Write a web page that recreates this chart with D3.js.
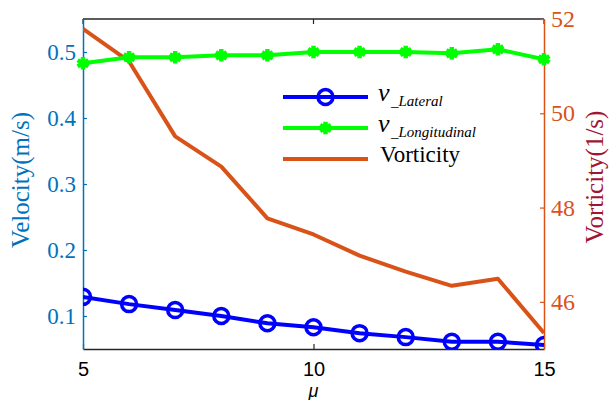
<!DOCTYPE html>
<html>
<head>
<meta charset="utf-8">
<script src="https://cdn.jsdelivr.net/npm/d3@7"></script>
<style>
  body { margin: 0; background: #fff; }
  svg { display: block; }
</style>
</head>
<body>
<div id="chart"></div>
<script>
// data
const mu = [5, 6, 7, 8, 9, 10, 11, 12, 13, 14, 15];
const vLateral = [0.129, 0.118, 0.109, 0.100, 0.089, 0.083, 0.074, 0.068, 0.061, 0.061, 0.056];
const vLongitudinal = [0.483, 0.492, 0.492, 0.495, 0.495, 0.500, 0.500, 0.500, 0.498, 0.504, 0.489];
const vorticity = [51.79, 51.1, 49.51, 48.87, 47.77, 47.43, 46.98, 46.64, 46.34, 46.49, 45.34];

const xTicks = [5, 10, 15];
const leftTicks = [0.1, 0.2, 0.3, 0.4, 0.5];
const rightTicks = [46, 48, 50, 52];

const width = 609, height = 400;
const margin = { top: 19, right: 65, bottom: 51, left: 83 };
const plotW = width - margin.left - margin.right;
const plotH = height - margin.top - margin.bottom;

const blueAxis = "#0072BD", orange = "#D95319", darkRed = "#A2142F";
const serif = "Liberation Serif, Times New Roman, serif";
const sans = "Liberation Sans, Arial, sans-serif";

const svg = d3
  .select("#chart")
  .append("svg")
  .attr("width", width)
  .attr("height", height);

const g = svg.append("g").attr("transform", `translate(${margin.left},${margin.top})`);

const x = d3.scaleLinear().domain([5, 15]).range([0, plotW]);
const yL = d3.scaleLinear().domain([0.05, 0.55]).range([plotH, 0]);
const yR = d3.scaleLinear().domain([45, 52]).range([plotH, 0]);

svg.append("defs")
  .append("clipPath")
  .attr("id", "plotClip")
  .append("rect")
  .attr("x", 0)
  .attr("y", -10)
  .attr("width", plotW)
  .attr("height", plotH + 10);

// top frame line with inward tick
g.append("line")
  .attr("x1", 0).attr("x2", plotW)
  .attr("y1", 0).attr("y2", 0)
  .attr("stroke", "#262626").attr("stroke-width", 1.5);
g.selectAll(".topTick")
  .data(xTicks)
  .enter()
  .append("line")
  .attr("x1", (d) => x(d)).attr("x2", (d) => x(d))
  .attr("y1", 0).attr("y2", 5)
  .attr("stroke", "#262626").attr("stroke-width", 1.2);

// bottom axis
const xAxis = g.append("g")
  .attr("transform", `translate(0,${plotH})`)
  .call(d3.axisBottom(x).tickValues(xTicks).tickSize(-5).tickSizeOuter(0).tickPadding(13));
xAxis.attr("font-family", sans).attr("font-size", 20);
xAxis.select(".domain").attr("stroke", "#262626").attr("stroke-width", 1.5);
xAxis.selectAll(".tick line").attr("stroke", "#262626").attr("stroke-width", 1.2);
xAxis.selectAll("text").attr("fill", "#000");

// left axis
const leftAxis = g.append("g")
  .call(d3.axisLeft(yL).tickValues(leftTicks).tickFormat(d3.format(".1f")).tickSize(-4).tickSizeOuter(0).tickPadding(7));
leftAxis.attr("font-family", serif).attr("font-size", 23);
leftAxis.select(".domain").attr("stroke", blueAxis).attr("stroke-width", 1.5);
leftAxis.selectAll(".tick line").attr("stroke", blueAxis).attr("stroke-width", 1.2);
leftAxis.selectAll("text").attr("fill", blueAxis);

// right axis
const rightAxis = g.append("g")
  .attr("transform", `translate(${plotW},0)`)
  .call(d3.axisRight(yR).tickValues(rightTicks).tickFormat(d3.format("d")).tickSize(-4).tickSizeOuter(0).tickPadding(7));
rightAxis.attr("font-family", serif).attr("font-size", 24);
rightAxis.select(".domain").attr("stroke", orange).attr("stroke-width", 1.5);
rightAxis.selectAll(".tick line").attr("stroke", orange).attr("stroke-width", 1.2);
rightAxis.selectAll("text").attr("fill", orange);

// axis titles
svg.append("text")
  .attr("transform", `translate(29,${margin.top + plotH / 2 - 4}) rotate(-90)`)
  .attr("text-anchor", "middle")
  .attr("fill", blueAxis)
  .attr("font-family", serif)
  .attr("font-size", 25)
  .text("Velocity(m/s)");

svg.append("text")
  .attr("transform", `translate(603,${margin.top + plotH / 2 - 7}) rotate(-90)`)
  .attr("text-anchor", "middle")
  .attr("fill", darkRed)
  .attr("font-family", serif)
  .attr("font-size", 25)
  .text("Vorticity(1/s)");

svg.append("text")
  .attr("x", margin.left + x(10))
  .attr("y", 397)
  .attr("text-anchor", "middle")
  .attr("font-family", sans)
  .attr("font-size", 18)
  .attr("font-style", "italic")
  .text("μ");

// series
const plot = g.append("g").attr("clip-path", "url(#plotClip)");

const orangeLine = d3.line().x((d, i) => x(mu[i])).y((d) => yR(d));
plot.append("path")
  .datum(vorticity)
  .attr("d", orangeLine)
  .attr("fill", "none")
  .attr("stroke", orange)
  .attr("stroke-width", 4)
  .attr("stroke-linejoin", "round");

const leftLine = d3.line().x((d, i) => x(mu[i])).y((d) => yL(d));

plot.append("path")
  .datum(vLateral)
  .attr("d", leftLine)
  .attr("fill", "none")
  .attr("stroke", "#0000FF")
  .attr("stroke-width", 4);
plot.selectAll(".circ")
  .data(vLateral)
  .enter()
  .append("circle")
  .attr("cx", (d, i) => x(mu[i]))
  .attr("cy", (d) => yL(d))
  .attr("r", 7.5)
  .attr("fill", "none")
  .attr("stroke", "#0000FF")
  .attr("stroke-width", 3.5);

const greenG = g.append("g");
greenG.append("path")
  .datum(vLongitudinal)
  .attr("d", leftLine)
  .attr("fill", "none")
  .attr("stroke", "#00FF00")
  .attr("stroke-width", 4)
  .attr("clip-path", "url(#plotClip)");
const star = d3.symbol().type(d3.symbolAsterisk).size(110);
greenG.selectAll(".star")
  .data(vLongitudinal)
  .enter()
  .append("path")
  .attr("d", star)
  .attr("transform", (d, i) => `translate(${x(mu[i])},${yL(d)})`)
  .attr("fill", "none")
  .attr("stroke", "#00FF00")
  .attr("stroke-width", 4.5);

// legend
const legendItems = [
  { main: "v", sub: "_Lateral", color: "#0000FF", marker: "circle", y: 97 },
  { main: "v", sub: "_Longitudinal", color: "#00FF00", marker: "star", y: 128 },
  { main: "Vorticity", sub: "", color: orange, marker: "none", y: 159 }
];

const legend = svg.append("g").attr("font-family", serif);
legendItems.forEach((item) => {
  legend.append("line")
    .attr("x1", 283).attr("x2", 368)
    .attr("y1", item.y).attr("y2", item.y)
    .attr("stroke", item.color)
    .attr("stroke-width", 4);
  if (item.marker === "circle") {
    legend.append("circle")
      .attr("cx", 325.5).attr("cy", item.y).attr("r", 7.5)
      .attr("fill", "none").attr("stroke", item.color).attr("stroke-width", 3.5);
  } else if (item.marker === "star") {
    legend.append("path")
      .attr("d", star)
      .attr("transform", `translate(325.5,${item.y})`)
      .attr("fill", "none").attr("stroke", item.color).attr("stroke-width", 4.5);
  }
  if (item.sub) {
    legend.append("text")
      .attr("x", 378).attr("y", item.y + 4)
      .attr("font-style", "italic")
      .attr("font-size", 26)
      .text(item.main);
    legend.append("text")
      .attr("x", 391).attr("y", item.y + 9)
      .attr("font-style", "italic")
      .attr("font-size", 15)
      .text(item.sub);
  } else {
    legend.append("text")
      .attr("x", 380).attr("y", item.y + 3)
      .attr("font-size", 23)
      .text(item.main);
  }
});
</script>
</body>
</html>
